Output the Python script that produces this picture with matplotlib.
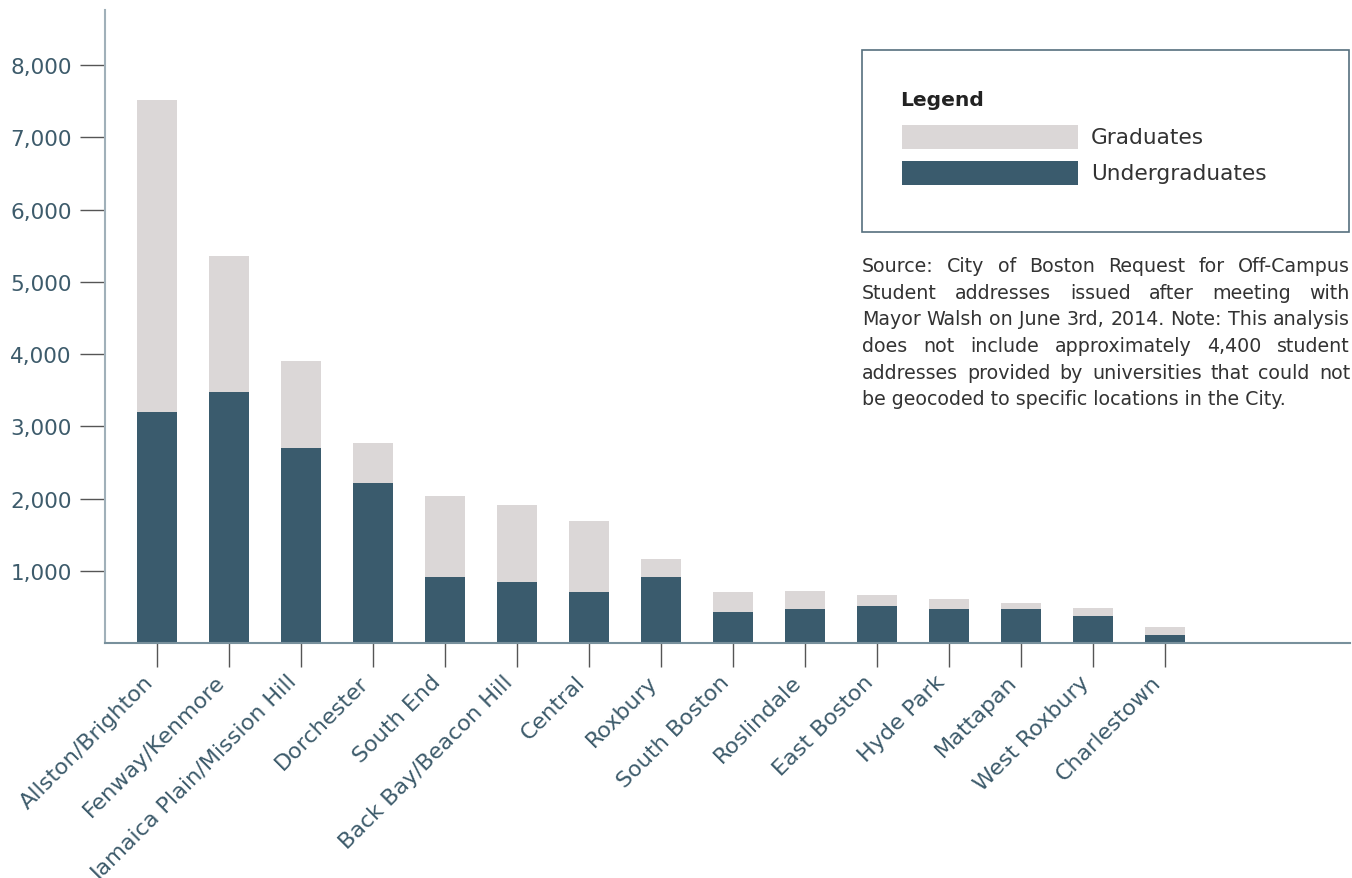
import matplotlib
matplotlib.use('Agg')
import matplotlib.pyplot as plt
import numpy as np
from matplotlib.patches import Rectangle

# Data ---------------------------------------------------------------------------------------
neighborhoods = ['Allston/Brighton', 'Fenway/Kenmore', 'Jamaica Plain/Mission Hill', 'Dorchester',
                 'South End', 'Back Bay/Beacon Hill', 'Central', 'Roxbury', 'South Boston',
                 'Roslindale', 'East Boston', 'Hyde Park', 'Mattapan', 'West Roxbury', 'Charlestown']
undergrads = [3200, 3475, 2700, 2215, 915, 845, 705, 915, 430, 470, 510, 470, 470, 375, 110]
graduates = [4315, 1880, 1200, 555, 1120, 1065, 985, 245, 275, 250, 155, 140, 85, 110, 110]
y_ticks = [1000, 2000, 3000, 4000, 5000, 6000, 7000, 8000]

source_lines = ['Source: City of Boston Request for Off-Campus',
                'Student addresses issued after meeting with',
                'Mayor Walsh on June 3rd, 2014. Note: This analysis',
                'does not include approximately 4,400 student',
                'addresses provided by universities that could not',
                'be geocoded to specific locations in the City.']

# Colours
grad_color = '#dbd7d7'
under_color = '#3a5b6d'
label_color = '#3d5b6b'

W, H = 1352, 879
fig = plt.figure(figsize=(W / 100, H / 100), dpi=100)

def fx(px):
    return px / W

def fy(py):
    return 1 - py / H

ax = fig.add_axes([fx(105), fy(644), fx(1350) - fx(105), fy(10.5) - fy(644)])

x = np.arange(len(neighborhoods))
ax.bar(x, undergrads, width=0.56, color=under_color, zorder=2)
ax.bar(x, graduates, width=0.56, bottom=undergrads, color=grad_color, zorder=2)

ax.set_xlim(-0.722, 16.57)
ax.set_ylim(0, 8770)

ax.set_yticks(y_ticks)
ax.set_yticklabels([f'{v:,}' for v in y_ticks])
ax.set_xticks(x)
ax.set_xticklabels(neighborhoods, rotation=45, ha='right', va='top')

ax.tick_params(axis='y', direction='out', length=18, width=1, color='#555555',
               labelsize=15.5, labelcolor=label_color, pad=6)
ax.tick_params(axis='x', direction='out', length=17.5, width=1, color='#555555',
               labelsize=16, labelcolor=label_color, pad=3)

for s in ['top', 'right']:
    ax.spines[s].set_visible(False)
ax.spines['left'].set_color('#a0b0b9')
ax.spines['left'].set_linewidth(1.5)
ax.spines['bottom'].set_color('#78909c')
ax.spines['bottom'].set_linewidth(1.5)

# Legend box drawn by hand ---------------------------------------------------------------------
fig.patches.append(Rectangle((fx(862), fy(233)), fx(1349) - fx(862), fy(50.7) - fy(233),
                             transform=fig.transFigure, facecolor='white',
                             edgecolor='#56707e', linewidth=1.2))
fig.text(fx(900), fy(106.5), 'Legend', fontsize=14.6, fontweight='bold', color='#222222',
         ha='left', va='baseline')
fig.patches.append(Rectangle((fx(902), fy(149.7)), fx(1078) - fx(902), fy(126) - fy(149.7),
                             transform=fig.transFigure, facecolor=grad_color, edgecolor='none'))
fig.patches.append(Rectangle((fx(902), fy(185.7)), fx(1078) - fx(902), fy(162) - fy(185.7),
                             transform=fig.transFigure, facecolor=under_color, edgecolor='none'))
fig.text(fx(1091), fy(138), 'Graduates', fontsize=15.6, color='#333333', ha='left', va='center')
fig.text(fx(1091), fy(174), 'Undergraduates', fontsize=15.6, color='#333333', ha='left', va='center')

# Justified source note ------------------------------------------------------------------------
note_size = 13.7
renderer = fig.canvas.get_renderer()
left_px, right_px = 862, 1350
baselines = [272, 298.7, 325.4, 352.1, 378.8, 405.5]
for i, line in enumerate(source_lines):
    if i == len(source_lines) - 1:
        # last line is left aligned, normal spacing
        fig.text(fx(left_px), fy(baselines[i]), line, fontsize=note_size, color='#333333',
                 ha='left', va='baseline')
        continue
    words = line.split(' ')
    texts = [fig.text(0, 0, w, fontsize=note_size, color='#333333', ha='left', va='baseline')
             for w in words]
    widths = [t.get_window_extent(renderer).width for t in texts]
    space = (right_px - left_px - sum(widths)) / (len(words) - 1)
    pos = left_px
    for t, w in zip(texts, widths):
        t.set_position((fx(pos), fy(baselines[i])))
        pos += w + space

fig.savefig('out.png', dpi=100)
